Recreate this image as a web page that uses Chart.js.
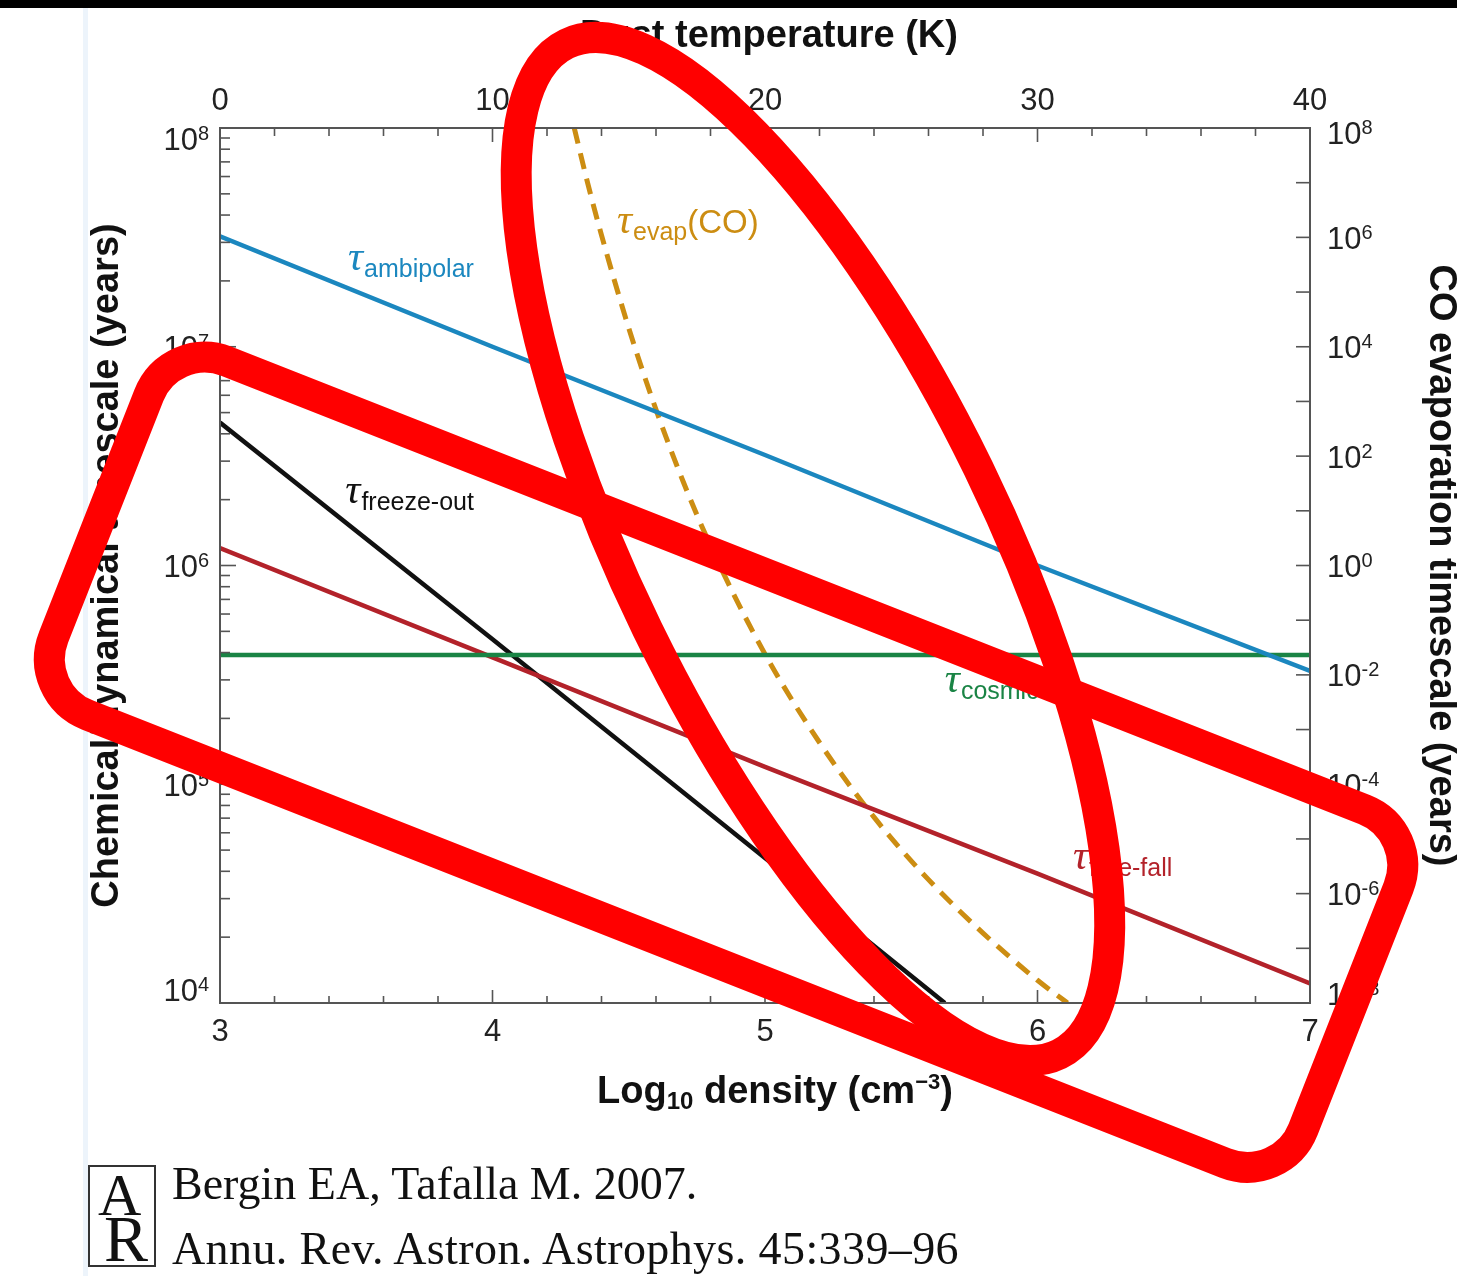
<!DOCTYPE html>
<html>
<head>
<meta charset="utf-8">
<title>Chemical and dynamical timescales vs density</title>
<script src="https://cdn.jsdelivr.net/npm/chart.js@4.4.1/dist/chart.umd.min.js"></script>
<style>
  body { margin: 0; background: #fff; width: 1457px; height: 1276px; overflow: hidden; position: relative; }
  #topbar { position: absolute; left: 0; top: 0; width: 1457px; height: 8px; background: #000; z-index: 3; }
  #strip { position: absolute; left: 83px; top: 8px; width: 5px; height: 1268px; background: #edf4fb; }
  #chart { position: absolute; left: 0; top: 0; }
  #logo { position: absolute; left: 88px; top: 1165px; width: 64px; height: 98px; border: 2px solid #333; z-index: 2;
          font-family: "Liberation Serif", "Times New Roman", serif; color: #111; overflow: hidden; }
  #logo .a { position: absolute; left: 8px; top: -6px; font-size: 60px; }
  #logo .r { position: absolute; left: 14px; top: 34px; font-size: 66px; }
  .cite { position: absolute; left: 172px; z-index: 2; font-family: "Liberation Serif", "Times New Roman", serif;
          font-size: 46px; color: #111; white-space: nowrap; line-height: 1; }
</style>
</head>
<body>
<div id="topbar"></div>
<div id="strip"></div>
<canvas id="chart" width="1457" height="1276"></canvas>
<div id="logo"><span class="a">A</span><span class="r">R</span></div>
<div class="cite" style="top:1161px">Bergin EA, Tafalla M. 2007.</div>
<div class="cite" style="top:1226px; letter-spacing:0.4px">Annu. Rev. Astron. Astrophys. 45:339–96</div>

<script>
// values
const densityLog = [3, 4, 5, 6, 7];
const ambipolarYears = [3.2e7, 1.0e7, 3.2e6, 1.0e6, 3.3e5];
const freeFallYears = [1.2e6, 3.8e5, 1.2e5, 3.9e4, 1.23e4];
const cosmicRayYears = [3.9e5, 3.9e5, 3.9e5, 3.9e5, 3.9e5];
const freezeDensityLog = [3, 4, 5, 5.66];
const freezeOutYears = [4.5e6, 4.6e5, 4.6e4, 1.0e4];
const dustTempK = [13.0, 13.5, 14, 15, 16, 17, 18, 20, 22, 24, 26, 28, 30, 31.1];
const evapCOYears = [1e8, 9.5e6, 1.1e6, 2.2e4, 7.1e2, 3.4e1, 2.3, 2.4e-2, 5.8e-4, 2.5e-5, 1.8e-6, 1.9e-7, 2.6e-8, 1e-8];

// tick labels
const densityTicks = [3, 4, 5, 6, 7];
const tempTicks = [0, 10, 20, 30, 40];
const leftExps = [8, 7, 6, 5, 4];
const rightExps = [8, 6, 4, 2, 0, -2, -4, -6, -8];

const BLUE = '#1b87bf';
const GREEN = '#1a8445';
const RED = '#b3222a';
const BLACK = '#111111';
const ORANGE = '#cc8d12';
const AXIS = '#555555';

const SANS = '"Liberation Sans", Arial, Helvetica, sans-serif';
const TICK_FONT = '31px ' + SANS;
const SUP_FONT = '20px ' + SANS;
const TITLE_FONT = 'bold 38px ' + SANS;

// curve labels (anchor = left edge / baseline of the tau, in axis units)
const curveLabels = [
  { sub: 'ambipolar', color: BLUE, xa: 'x', ya: 'y', x: 3.47, y: 2.25e7 },
  { sub: 'freeze-out', color: BLACK, xa: 'x', ya: 'y', x: 3.46, y: 1.93e6 },
  { sub: 'evap', tail: '(CO)', color: ORANGE, xa: 'x2', ya: 'y2', x: 14.57, y: 1.2e6 },
  { sub: 'cosmic-ray', color: GREEN, xa: 'x', ya: 'y', x: 5.66, y: 2.63e5 },
  { sub: 'free-fall', color: RED, xa: 'x', ya: 'y', x: 6.13, y: 4.1e4 }
];

// red hand-drawn marks over the figure
const ring = { x: 5.176, y: 1.19e6, rx: 562, ry: 184, angle: 64 };
const box = { x: 4.857, y: 1.26e5, w: 1343, h: 380, r: 60, angle: 21.5 };

function pts(xs, ys) {
  return xs.map((v, i) => ({ x: v, y: ys[i] }));
}

function line(ctx, x1, y1, x2, y2) {
  ctx.beginPath();
  ctx.moveTo(x1, y1);
  ctx.lineTo(x2, y2);
  ctx.stroke();
}

// "10" with a raised exponent
function drawPow(ctx, exp, x, y, align) {
  ctx.font = TICK_FONT;
  const w1 = ctx.measureText('10').width;
  ctx.font = SUP_FONT;
  const w2 = ctx.measureText(String(exp)).width;
  const left = align === 'right' ? x - w1 - w2 : x;
  ctx.textAlign = 'left';
  ctx.textBaseline = 'middle';
  ctx.font = TICK_FONT;
  ctx.fillText('10', left, y);
  ctx.font = SUP_FONT;
  ctx.fillText(String(exp), left + w1, y - 7);
}

const figurePlugin = {
  id: 'figure',
  afterDraw(chart) {
    const { ctx, chartArea: a, scales } = chart;
    const sx = scales.x, sx2 = scales.x2, sy = scales.y, sy2 = scales.y2;
    ctx.save();

    // frame
    ctx.strokeStyle = AXIS;
    ctx.lineWidth = 2;
    ctx.strokeRect(a.left, a.top, a.right - a.left, a.bottom - a.top);
    ctx.lineWidth = 1.6;

    // bottom ticks
    for (let i = 0; i <= 20; i++) {
      const v = 3 + i * 0.2;
      const px = sx.getPixelForValue(v);
      line(ctx, px, a.bottom, px, a.bottom - (i % 5 === 0 ? 13 : 7));
    }
    // top ticks
    for (let t = 0; t <= 40; t += 2) {
      const px = sx2.getPixelForValue(t);
      line(ctx, px, a.top, px, a.top + (t % 10 === 0 ? 14 : 8));
    }
    // left ticks
    for (let e = 4; e <= 8; e++) {
      for (let m = 1; m <= 9; m++) {
        if (e === 8 && m > 1) break;
        const py = sy.getPixelForValue(m * Math.pow(10, e));
        line(ctx, a.left, py, a.left + (m === 1 ? 16 : 10), py);
      }
    }
    // right ticks
    for (let e = -8; e <= 8; e++) {
      const py = sy2.getPixelForValue(Math.pow(10, e));
      line(ctx, a.right, py, a.right - 14, py);
    }

    // tick labels
    ctx.fillStyle = '#222';
    ctx.font = TICK_FONT;
    ctx.textAlign = 'center';
    ctx.textBaseline = 'middle';
    densityTicks.forEach(v => ctx.fillText(String(v), sx.getPixelForValue(v), a.bottom + 29));
    tempTicks.forEach(v => ctx.fillText(String(v), sx2.getPixelForValue(v), a.top - 27));

    leftExps.forEach((e, i) => {
      let py = sy.getPixelForValue(Math.pow(10, e)) + 3;
      if (i === 0) py += 10;
      if (i === leftExps.length - 1) py -= 14;
      drawPow(ctx, e, a.left - 11, py, 'right');
    });
    rightExps.forEach((e, i) => {
      let py = sy2.getPixelForValue(Math.pow(10, e)) + 3;
      if (i === 0) py += 4;
      if (i === rightExps.length - 1) py -= 10;
      drawPow(ctx, e, a.right + 17, py, 'left');
    });

    // axis titles
    ctx.fillStyle = '#111';
    ctx.font = TITLE_FONT;
    ctx.textAlign = 'center';
    ctx.textBaseline = 'alphabetic';
    ctx.fillText('Dust temperature (K)', (a.left + a.right) / 2 + 4, 47);

    ctx.save();
    ctx.translate(108, (a.top + a.bottom) / 2);
    ctx.rotate(-Math.PI / 2);
    ctx.textBaseline = 'middle';
    ctx.fillText('Chemical/dynamical timescale (years)', 0, 0);
    ctx.restore();

    ctx.save();
    ctx.translate(1440, (a.top + a.bottom) / 2);
    ctx.rotate(Math.PI / 2);
    ctx.textBaseline = 'middle';
    ctx.fillText('CO evaporation timescale (years)', 0, 0);
    ctx.restore();

    // bottom title with sub/superscript
    const parts = [
      { t: 'Log', f: TITLE_FONT, dy: 0 },
      { t: '10', f: 'bold 24px ' + SANS, dy: 6 },
      { t: ' density (cm', f: TITLE_FONT, dy: 0 },
      { t: '\u22123', f: 'bold 22px ' + SANS, dy: -14 },
      { t: ')', f: TITLE_FONT, dy: 0 }
    ];
    let total = 0;
    parts.forEach(p => { ctx.font = p.f; p.w = ctx.measureText(p.t).width; total += p.w; });
    let cx = 775 - total / 2;
    ctx.textAlign = 'left';
    parts.forEach(p => { ctx.font = p.f; ctx.fillText(p.t, cx, 1103 + p.dy); cx += p.w; });

    // curve labels
    curveLabels.forEach(l => {
      const px = scales[l.xa].getPixelForValue(l.x);
      const py = scales[l.ya].getPixelForValue(l.y);
      ctx.fillStyle = l.color;
      ctx.font = 'italic 42px "Liberation Serif", "Times New Roman", serif';
      ctx.fillText('\u03c4', px, py);
      const wt = ctx.measureText('\u03c4').width;
      ctx.font = '25px ' + SANS;
      ctx.fillText(l.sub, px + wt + 1, py + 7);
      if (l.tail) {
        const ws = ctx.measureText(l.sub).width;
        ctx.font = '33px ' + SANS;
        ctx.fillText(l.tail, px + wt + 1 + ws, py);
      }
    });

    // red marks
    ctx.strokeStyle = '#ff0000';
    ctx.lineWidth = 31;
    ctx.beginPath();
    ctx.ellipse(sx.getPixelForValue(ring.x), sy.getPixelForValue(ring.y), ring.rx, ring.ry,
      ring.angle * Math.PI / 180, 0, Math.PI * 2);
    ctx.stroke();

    ctx.translate(sx.getPixelForValue(box.x), sy.getPixelForValue(box.y));
    ctx.rotate(box.angle * Math.PI / 180);
    ctx.beginPath();
    ctx.roundRect(-box.w / 2, -box.h / 2, box.w, box.h, box.r);
    ctx.stroke();

    ctx.restore();
  }
};

const lineStyle = { showLine: true, pointRadius: 0, borderWidth: 4.5, fill: false };

new Chart(document.getElementById('chart'), {
  type: 'scatter',
  data: {
    datasets: [
      Object.assign({ label: 'ambipolar', data: pts(densityLog, ambipolarYears), borderColor: BLUE, xAxisID: 'x', yAxisID: 'y' }, lineStyle),
      Object.assign({ label: 'cosmic-ray', data: pts(densityLog, cosmicRayYears), borderColor: GREEN, xAxisID: 'x', yAxisID: 'y' }, lineStyle),
      Object.assign({ label: 'free-fall', data: pts(densityLog, freeFallYears), borderColor: RED, xAxisID: 'x', yAxisID: 'y' }, lineStyle),
      Object.assign({ label: 'freeze-out', data: pts(freezeDensityLog, freezeOutYears), borderColor: BLACK, xAxisID: 'x', yAxisID: 'y' }, lineStyle),
      Object.assign({}, lineStyle, {
        label: 'evap(CO)', data: pts(dustTempK, evapCOYears), borderColor: ORANGE, borderWidth: 5,
        borderDash: [16, 10], cubicInterpolationMode: 'monotone', xAxisID: 'x2', yAxisID: 'y2'
      })
    ]
  },
  options: {
    responsive: false,
    animation: false,
    devicePixelRatio: 1,
    events: [],
    layout: { padding: { left: 220, top: 128, right: 147, bottom: 273 } },
    plugins: { legend: { display: false }, tooltip: { enabled: false } },
    scales: {
      x: { type: 'linear', position: 'bottom', min: 3, max: 7, display: false },
      x2: { type: 'linear', position: 'top', min: 0, max: 40, display: false },
      y: { type: 'logarithmic', position: 'left', min: 1e4, max: 1e8, display: false },
      y2: { type: 'logarithmic', position: 'right', min: 1e-8, max: 1e8, display: false }
    }
  },
  plugins: [figurePlugin]
});
</script>
</body>
</html>
